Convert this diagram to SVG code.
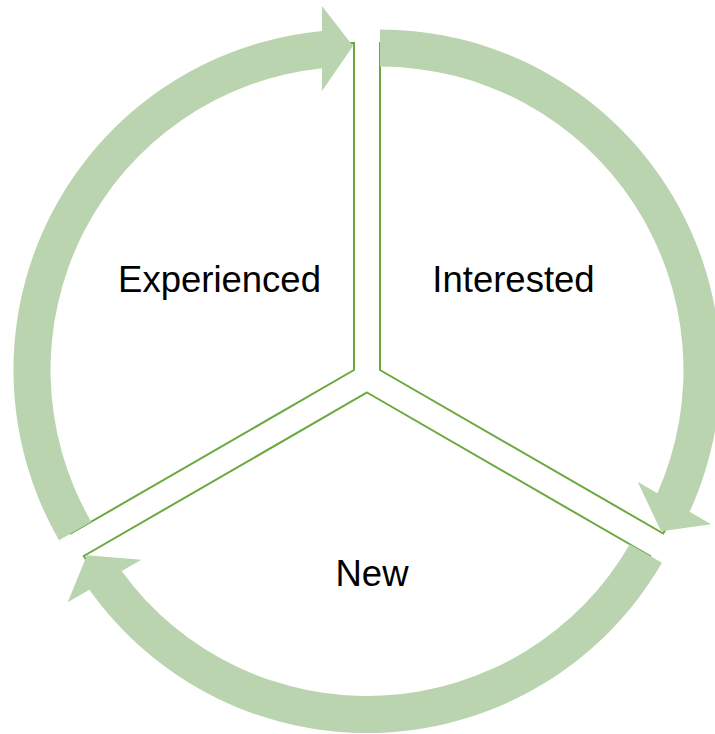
<svg xmlns="http://www.w3.org/2000/svg" width="715" height="734" viewBox="0 0 715 734">
<style>
.wedge{fill:#ffffff;stroke:#6aa840;stroke-width:2;stroke-linejoin:miter}
.arrow{fill:#bbd4b0;stroke:none}
.label{font-family:"Liberation Sans",Arial,sans-serif;font-size:36.5px;fill:#000000;text-anchor:middle}
</style>
<defs>
<path id="arc" d="M -294.9 170.25 A 340.5 340.5 0 0 1 -32 -339 L -32 -364 L -1 -324 L -32 -279 L -32 -301.8 A 303.5 303.5 0 0 0 -262.8 151.75 Z"/>
</defs>
<rect width="715" height="734" fill="#ffffff"/>
<g id="node-experienced">
<path class="wedge" d="M354 370 L70.8 533.5 A327 327 0 0 1 354 43 Z"/>
<text class="label" x="219.5" y="291.5">Experienced</text>
</g>
<g id="node-interested">
<path class="wedge" d="M380 370 L380 43 A327 327 0 0 1 663.2 533.5 Z"/>
<text class="label" x="513.5" y="291.5">Interested</text>
</g>
<g id="node-new">
<path class="wedge" d="M367 392.5 L650.2 556 A327 327 0 0 1 83.8 556 Z"/>
<text class="label" x="372" y="586">New</text>
</g>
<g id="connectors">
<use href="#arc" class="arrow" transform="translate(354,370)"/>
<use href="#arc" class="arrow" transform="translate(380,370) rotate(120)"/>
<use href="#arc" class="arrow" transform="translate(367,392.5) rotate(240)"/>
</g>
</svg>
